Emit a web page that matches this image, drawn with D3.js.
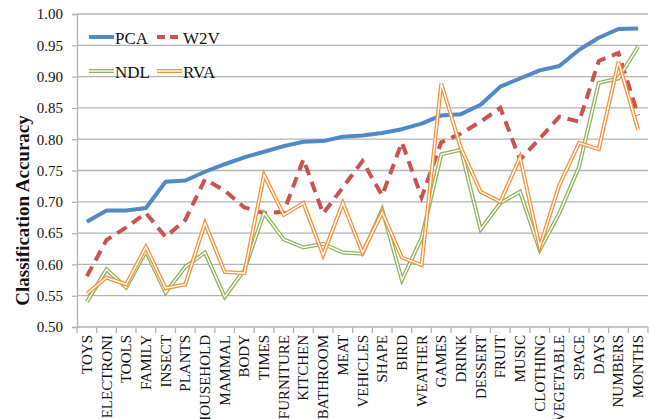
<!DOCTYPE html>
<html><head><meta charset="utf-8">
<script src="https://cdn.jsdelivr.net/npm/d3@7"></script>
<style>
html,body{margin:0;padding:0;background:#fff;overflow:hidden;}
svg{display:block;font-family:"Liberation Serif","Times New Roman",serif;}
</style></head>
<body>
<svg id="chart" width="649" height="419"></svg>
<script>
const categories = ["TOYS","ELECTRONI","TOOLS","FAMILY","INSECT","PLANTS","HOUSEHOLD","MAMMAL","BODY","TIMES","FURNITURE","KITCHEN","BATHROOM","MEAT","VEHICLES","SHAPE","BIRD","WEATHER","GAMES","DRINK","DESSERT","FRUIT","MUSIC","CLOTHING","VEGETABLE","SPACE","DAYS","NUMBERS","MONTHS"];
const pca = [0.668,0.686,0.686,0.690,0.732,0.734,0.748,0.760,0.771,0.780,0.789,0.796,0.797,0.804,0.806,0.810,0.816,0.825,0.838,0.840,0.855,0.884,0.897,0.910,0.917,0.943,0.962,0.976,0.977];
const w2v = [0.581,0.639,0.659,0.682,0.644,0.671,0.736,0.718,0.691,0.682,0.684,0.768,0.681,0.723,0.765,0.710,0.795,0.707,0.795,0.809,0.828,0.850,0.767,0.801,0.836,0.828,0.925,0.938,0.838];
const ndl = [0.540,0.592,0.563,0.621,0.555,0.596,0.619,0.548,0.591,0.682,0.640,0.627,0.633,0.619,0.617,0.688,0.575,0.642,0.776,0.783,0.656,0.698,0.716,0.623,0.682,0.756,0.890,0.897,0.948];
const rva = [0.553,0.579,0.568,0.628,0.562,0.568,0.666,0.588,0.586,0.743,0.679,0.698,0.615,0.698,0.619,0.683,0.611,0.599,0.889,0.786,0.716,0.700,0.771,0.628,0.727,0.794,0.784,0.924,0.815];
const yTicks = [0.50,0.55,0.60,0.65,0.70,0.75,0.80,0.85,0.90,0.95,1.00];
const seriesNames = ["PCA","W2V","NDL","RVA"];

(function(){
const svg = d3.select("#chart");
const mLeft = 77, mRight = 648, mTop = 14, mBottom = 327;
const x = d3.scaleBand().domain(categories).range([mLeft, mRight]).padding(0);
const y = d3.scaleLinear().domain([0.5, 1.0]).range([mBottom, mTop]);
const gridColor = "#b3b3b3";

// gridlines
svg.append("g").selectAll("line").data(yTicks.slice(1)).join("line")
  .attr("x1", mLeft).attr("x2", mRight)
  .attr("y1", d => y(d)).attr("y2", d => y(d))
  .attr("stroke", gridColor).attr("stroke-width", 1.3);

// y axis
const yAxis = svg.append("g").attr("transform", `translate(${mLeft},0)`)
  .call(d3.axisLeft(y).tickValues(yTicks).tickFormat(d3.format(".2f")).tickSize(5).tickPadding(9));
yAxis.select(".domain").attr("stroke", gridColor).attr("stroke-width", 1.3);
yAxis.selectAll(".tick line").attr("stroke", gridColor).attr("stroke-width", 1.3);
yAxis.selectAll("text").attr("font-size", 15).attr("fill", "#111")
  .attr("font-family", "Liberation Serif");

// x axis
const xAxisG = svg.append("g").attr("transform", `translate(0,${mBottom})`);
xAxisG.append("line").attr("x1", mLeft).attr("x2", mRight).attr("y1", 0).attr("y2", 0)
  .attr("stroke", gridColor).attr("stroke-width", 1.3);
const bounds = categories.map(c => x(c)).concat([mRight]);
xAxisG.selectAll("line.tk").data(bounds).join("line").attr("class", "tk")
  .attr("x1", d => d).attr("x2", d => d).attr("y1", 0).attr("y2", 6)
  .attr("stroke", gridColor).attr("stroke-width", 1.3);
xAxisG.selectAll("text").data(categories).join("text")
  .attr("transform", d => `translate(${x(d) + x.bandwidth()/2 + 5},8) rotate(-90)`)
  .attr("text-anchor", "end")
  .attr("font-size", 15).attr("fill", "#111")
  .text(d => d);

// y title
svg.append("text")
  .attr("transform", `translate(29,${(mTop + mBottom)/2 + 40}) rotate(-90)`)
  .attr("text-anchor", "middle")
  .attr("font-size", 19).attr("font-weight", "bold").attr("fill", "#111")
  .text("Classification Accuracy");

const line = d3.line().x((d, i) => x(categories[i]) + x.bandwidth()/2).y(d => y(d));

const blue = "#4f89c6", red = "#c9534f", green = "#8fb35a", orange = "#f6923d";

svg.append("path").datum(pca).attr("d", line).attr("fill", "none")
  .attr("stroke", blue).attr("stroke-width", 4).attr("stroke-linejoin", "round");
svg.append("path").datum(w2v).attr("d", line).attr("fill", "none")
  .attr("stroke", red).attr("stroke-width", 4).attr("stroke-dasharray", "11,7");

function doubleLine(data, color) {
  svg.append("path").datum(data).attr("d", line).attr("fill", "none")
    .attr("stroke", color).attr("stroke-width", 4).attr("stroke-linejoin", "miter");
  svg.append("path").datum(data).attr("d", line).attr("fill", "none")
    .attr("stroke", "#fff").attr("stroke-width", 1.4).attr("stroke-linejoin", "miter");
}
doubleLine(ndl, green);
doubleLine(rva, orange);

// legend
const legend = [
  {name: seriesNames[0], color: blue, style: "solid", lx: 89, ly: 37},
  {name: seriesNames[1], color: red, style: "dash", lx: 157, ly: 37},
  {name: seriesNames[2], color: green, style: "double", lx: 89, ly: 71},
  {name: seriesNames[3], color: orange, style: "double", lx: 157, ly: 71}
];
legend.forEach(l => {
  const g = svg.append("g");
  g.append("line").attr("x1", l.lx).attr("x2", l.lx + 25).attr("y1", l.ly).attr("y2", l.ly)
    .attr("stroke", l.color).attr("stroke-width", 4)
    .attr("stroke-dasharray", l.style === "dash" ? "8,5" : null);
  if (l.style === "double") {
    g.append("line").attr("x1", l.lx).attr("x2", l.lx + 25).attr("y1", l.ly).attr("y2", l.ly)
      .attr("stroke", "#fff").attr("stroke-width", 1.4);
  }
  g.append("text").attr("x", l.lx + 26).attr("y", l.ly + 7)
    .attr("font-size", 17).attr("fill", "#111").text(l.name);
});
})();
</script>
</body></html>
